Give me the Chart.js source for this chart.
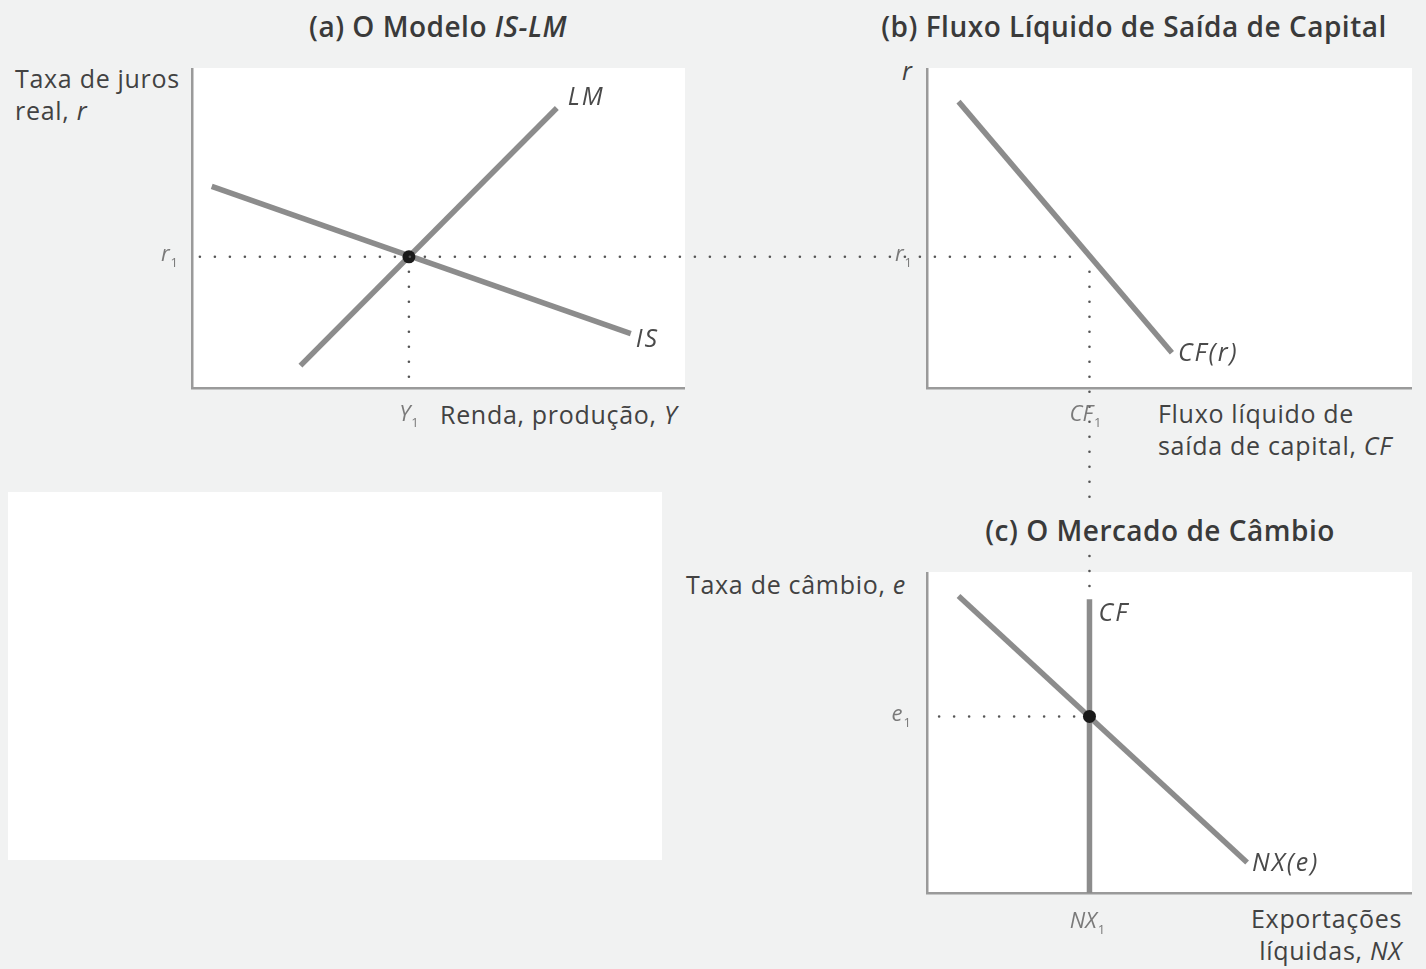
<!DOCTYPE html>
<html>
<head>
<meta charset="utf-8">
<script src="https://cdn.jsdelivr.net/npm/chart.js@4"></script>
<style>
  body { margin: 0; background: #f1f2f2; width: 1426px; height: 969px; overflow: hidden; position: relative; font-family: "Open Sans", "Lato", sans-serif; color: #424242; }
  canvas { position: absolute; }
  .txt { position: absolute; font-size: 25px; line-height: 32px; white-space: nowrap; letter-spacing: 0.7px; }
  .ttl { position: absolute; font-size: 28px; font-weight: 600; color: #3a3a3a; white-space: nowrap; letter-spacing: 0.5px; transform: translateX(-50%); }
  .blank { position: absolute; left: 8px; top: 492px; width: 654px; height: 368px; background: #fff; }
</style>
</head>
<body>
<div class="blank"></div>

<div class="ttl" style="left:438px; top:7px">(a) O Modelo <i>IS-LM</i></div>
<div class="ttl" style="left:1134px; top:7px">(b) Fluxo Líquido de Saída de Capital</div>
<div class="ttl" style="left:1160px; top:511px">(c) O Mercado de Câmbio</div>

<div class="txt" style="left:15px; top:62px">Taxa de juros<br>real, <i>r</i></div>
<div class="txt" style="left:440px; top:398px">Renda, produção, <i>Y</i></div>
<div class="txt" style="left:902px; top:54px"><i>r</i></div>
<div class="txt" style="left:1158px; top:397px">Fluxo líquido de<br>saída de capital, <i>CF</i></div>
<div class="txt" style="left:686px; top:568px">Taxa de câmbio, <i>e</i></div>
<div class="txt" style="right:24px; top:902px; text-align:right">Exportações<br>líquidas, <i>NX</i></div>

<canvas id="panelA" width="497" height="324" style="left:188px; top:68px"></canvas>
<canvas id="panelB" width="489" height="324" style="left:923px; top:68px"></canvas>
<canvas id="panelC" width="489" height="325" style="left:923px; top:572px"></canvas>
<canvas id="overlay" width="1426" height="969" style="left:0; top:0; pointer-events:none"></canvas>

<script>
// curve end points (x = quantity, y = rate)
const isX = [0.4, 8.9];
const isR = [6.3, 1.7];
const lmX = [2.2, 7.4];
const lmR = [0.7, 8.75];
const cfX = [0.65, 5.05];
const cfR = [8.95, 1.1];
const nxX = [0.65, 6.6];
const nxE = [9.25, 0.95];
const cfSupplyE = [0, 9.15];

// equilibrium values
const Y1 = 4.4;
const r1 = 4.1;
const CF1 = 3.35;
const e1 = 5.5;

const curveLabels = ['LM', 'IS', 'CF(r)', 'CF', 'NX(e)'];

const LINE = '#8c8c8c';
const DOT = '#555';
const AXIS = '#9a9a9a';

function pts(xs, ys) {
  return xs.map((x, i) => ({x: x, y: ys[i]}));
}

function curve(xs, ys) {
  return { data: pts(xs, ys), showLine: true, borderColor: LINE, borderWidth: 5.5, pointRadius: 0, borderCapStyle: 'butt', order: 1 };
}

function dotted(xs, ys) {
  return { data: pts(xs, ys), showLine: true, borderColor: DOT, borderWidth: 2.6, borderDash: [0, 15], borderCapStyle: 'round', pointRadius: 0, order: 2 };
}

function marker(x, y) {
  return { data: [{x: x, y: y}], pointRadius: 6.5, pointBackgroundColor: '#1a1a1a', pointBorderWidth: 0, order: 0 };
}

const whiteArea = {
  id: 'whiteArea',
  beforeDraw(chart) {
    const a = chart.chartArea;
    chart.ctx.save();
    chart.ctx.fillStyle = '#fff';
    chart.ctx.fillRect(a.left, a.top, a.right - a.left, a.bottom - a.top);
    chart.ctx.restore();
  }
};

function axis() {
  return {
    type: 'linear', min: 0, max: 10,
    grid: { display: false, drawTicks: false },
    ticks: { display: false },
    border: { display: true, color: AXIS, width: 2.5 }
  };
}

function makePanel(id, datasets) {
  return new Chart(document.getElementById(id), {
    type: 'scatter',
    data: { datasets: datasets },
    options: {
      responsive: false,
      devicePixelRatio: 1,
      animation: false,
      events: [],
      layout: { autoPadding: false, padding: { left: 4, bottom: 4, top: 0, right: 0 } },
      plugins: { legend: { display: false }, tooltip: { enabled: false } },
      scales: { x: axis(), y: axis() }
    },
    plugins: [whiteArea]
  });
}

const chartA = makePanel('panelA', [
  dotted([Y1, Y1], [r1, 0]),
  curve(isX, isR),
  curve(lmX, lmR),
  marker(Y1, r1)
]);

const chartB = makePanel('panelB', [
  curve(cfX, cfR)
]);

const chartC = makePanel('panelC', [
  dotted([0.25, CF1], [e1, e1]),
  curve(nxX, nxE),
  curve([CF1, CF1], cfSupplyE),
  marker(CF1, e1)
]);

// connectors between panels, tick labels and curve names
const ov = document.getElementById('overlay').getContext('2d');

function px(chart, x) { return chart.scales.x.getPixelForValue(x) + chart.canvas.offsetLeft; }
function py(chart, y) { return chart.scales.y.getPixelForValue(y) + chart.canvas.offsetTop; }

function dots(x1, y1, x2, y2) {
  ov.save();
  ov.strokeStyle = DOT;
  ov.lineWidth = 2.6;
  ov.lineCap = 'round';
  ov.setLineDash([0, 15]);
  ov.beginPath();
  ov.moveTo(x1, y1);
  ov.lineTo(x2, y2);
  ov.stroke();
  ov.restore();
}

// r1 runs from panel (a) over to CF(r) in panel (b)
const yR1 = py(chartA, r1);
dots(px(chartA, 0.16), yR1, px(chartB, CF1) - 6, yR1);

// CF1 drops from panel (b) down to the CF line in panel (c), broken by the title
const xCF1 = px(chartB, CF1);
dots(xCF1, py(chartB, r1) + 15, xCF1, 506);
dots(xCF1, 556, xCF1, py(chartC, cfSupplyE[1]) - 8);

function subLabel(main, sub, x, y, align) {
  ov.save();
  ov.fillStyle = '#7a7a7a';
  ov.textBaseline = 'alphabetic';
  ov.font = 'italic 22px "Open Sans", sans-serif';
  const w1 = ov.measureText(main).width;
  ov.font = '13px "Open Sans", sans-serif';
  const w2 = ov.measureText(sub).width;
  const total = w1 + 1 + w2;
  let left = x;
  if (align === 'right') left = x - total;
  if (align === 'center') left = x - total / 2;
  ov.font = 'italic 22px "Open Sans", sans-serif';
  ov.fillText(main, left, y);
  ov.font = '13px "Open Sans", sans-serif';
  ov.fillText(sub, left + w1 + 1, y + 6);
  ov.restore();
}

subLabel('r', '1', px(chartA, 0) - 14, yR1 + 4, 'right');
subLabel('Y', '1', px(chartA, Y1), py(chartA, 0) + 33, 'center');
subLabel('r', '1', px(chartB, 0) - 15, py(chartB, r1) + 4, 'right');
subLabel('CF', '1', px(chartB, CF1) - 4, py(chartB, 0) + 33, 'center');
subLabel('e', '1', px(chartC, 0) - 16, py(chartC, e1) + 5, 'right');
subLabel('NX', '1', px(chartC, CF1) - 2, py(chartC, 0) + 35, 'center');

function curveLabel(text, x, y) {
  ov.save();
  ov.fillStyle = '#4a4a4a';
  ov.font = 'italic 25px "Open Sans", sans-serif';
  ov.letterSpacing = '2px';
  ov.textBaseline = 'middle';
  ov.fillText(text, x, y);
  ov.restore();
}

curveLabel(curveLabels[0], px(chartA, lmX[1]) + 11, py(chartA, lmR[1]) - 10);
curveLabel(curveLabels[1], px(chartA, isX[1]) + 5, py(chartA, isR[1]) + 6);
curveLabel(curveLabels[2], px(chartB, cfX[1]) + 6, py(chartB, cfR[1]) + 1);
curveLabel(curveLabels[3], px(chartC, CF1) + 9, py(chartC, cfSupplyE[1]) + 15);
curveLabel(curveLabels[4], px(chartC, nxX[1]) + 5, py(chartC, nxE[1]) + 1);
</script>
</body>
</html>
